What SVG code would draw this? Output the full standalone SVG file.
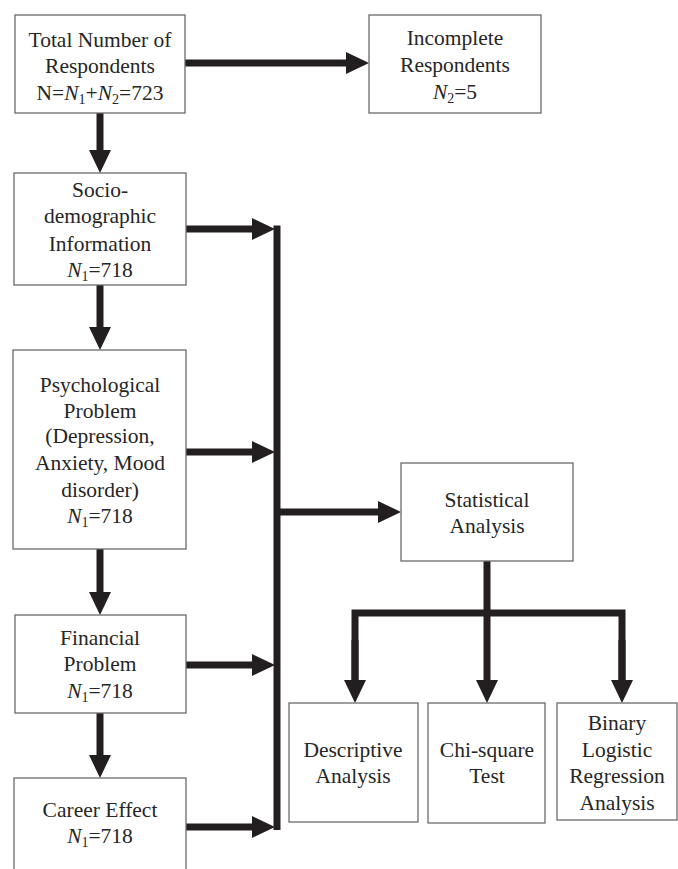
<svg xmlns="http://www.w3.org/2000/svg" width="678" height="869" viewBox="0 0 678 869">
<defs>
<style>
.box{fill:#fff;stroke:#6a6a6a;stroke-width:1.3}
.t{font-family:"Times New Roman",Tinos,"Liberation Serif","Noto Serif","DejaVu Serif",serif;font-size:21.5px;fill:#262626;text-anchor:middle}
.i{font-style:italic}
.c{stroke:#231f20;stroke-width:7;fill:none}
.a{stroke:#231f20;stroke-width:7;fill:none;marker-end:url(#ah)}
</style>
<marker id="ah" markerUnits="userSpaceOnUse" markerWidth="24" markerHeight="24" refX="1" refY="11" orient="auto">
<path d="M0,0 L23,11 L0,22 Z" fill="#231f20"/>
</marker>
</defs>
<rect width="678" height="869" fill="#fff"/>
<g id="connectors">
<line class="a" x1="185" y1="63" x2="347" y2="63"/>
<line class="a" x1="100" y1="113" x2="100" y2="151"/>
<line class="a" x1="186" y1="229" x2="253" y2="229"/>
<line class="c" x1="277" y1="225.5" x2="277" y2="830"/>
<line class="a" x1="186" y1="452" x2="253" y2="452"/>
<line class="a" x1="186" y1="665" x2="253" y2="665"/>
<line class="a" x1="186" y1="827" x2="253" y2="827"/>
<line class="a" x1="277" y1="512" x2="379" y2="512"/>
<line class="a" x1="100" y1="285" x2="100" y2="328"/>
<line class="a" x1="100" y1="549" x2="100" y2="593"/>
<line class="a" x1="100" y1="713" x2="100" y2="756"/>
<line class="c" x1="487" y1="561" x2="487" y2="613"/>
<path class="c" d="M355,681 V613 H622 V681" stroke-linejoin="miter"/>
<line class="a" x1="355" y1="640" x2="355" y2="681"/>
<line class="a" x1="487" y1="613" x2="487" y2="681"/>
<line class="a" x1="622" y1="640" x2="622" y2="681"/>
</g>
<g id="total">
<rect class="box" x="15" y="15" width="170" height="98"/>
<text class="t" x="100" y="47">Total Number of</text>
<text class="t" x="100" y="73">Respondents</text>
<text class="t" x="100" y="100">N=<tspan class="i">N</tspan><tspan font-size="14" dy="4">1</tspan><tspan dy="-4">+</tspan><tspan class="i">N</tspan><tspan font-size="14" dy="4">2</tspan><tspan dy="-4">=723</tspan></text>
</g>
<g id="incomplete">
<rect class="box" x="369" y="15" width="172" height="98"/>
<text class="t" x="455" y="45">Incomplete</text>
<text class="t" x="455" y="72">Respondents</text>
<text class="t" x="455" y="99"><tspan class="i">N</tspan><tspan font-size="14" dy="4">2</tspan><tspan dy="-4">=5</tspan></text>
</g>
<g id="socio">
<rect class="box" x="14" y="173" width="172" height="112"/>
<text class="t" x="100" y="197">Socio-</text>
<text class="t" x="100" y="223">demographic</text>
<text class="t" x="100" y="251">Information</text>
<text class="t" x="100" y="277"><tspan class="i">N</tspan><tspan font-size="14" dy="4">1</tspan><tspan dy="-4">=718</tspan></text>
</g>
<g id="psych">
<rect class="box" x="13" y="350" width="173" height="199"/>
<text class="t" x="100" y="392">Psychological</text>
<text class="t" x="100" y="418">Problem</text>
<text class="t" x="100" y="443">(Depression,</text>
<text class="t" x="100" y="470">Anxiety, Mood</text>
<text class="t" x="100" y="497">disorder)</text>
<text class="t" x="100" y="523"><tspan class="i">N</tspan><tspan font-size="14" dy="4">1</tspan><tspan dy="-4">=718</tspan></text>
</g>
<g id="financial">
<rect class="box" x="15" y="615" width="171" height="98"/>
<text class="t" x="100" y="645">Financial</text>
<text class="t" x="100" y="671">Problem</text>
<text class="t" x="100" y="698"><tspan class="i">N</tspan><tspan font-size="14" dy="4">1</tspan><tspan dy="-4">=718</tspan></text>
</g>
<g id="career">
<rect class="box" x="14" y="778" width="172" height="110"/>
<text class="t" x="100" y="817">Career Effect</text>
<text class="t" x="100" y="843"><tspan class="i">N</tspan><tspan font-size="14" dy="4">1</tspan><tspan dy="-4">=718</tspan></text>
</g>
<g id="statistical">
<rect class="box" x="401" y="463" width="172" height="98"/>
<text class="t" x="487" y="507">Statistical</text>
<text class="t" x="487" y="533">Analysis</text>
</g>
<g id="descriptive">
<rect class="box" x="289" y="703" width="129" height="119"/>
<text class="t" x="353" y="757">Descriptive</text>
<text class="t" x="353" y="783">Analysis</text>
</g>
<g id="chisquare">
<rect class="box" x="428" y="703" width="117" height="120"/>
<text class="t" x="487" y="757">Chi-square</text>
<text class="t" x="487" y="783">Test</text>
</g>
<g id="binary">
<rect class="box" x="557" y="703" width="120" height="117"/>
<text class="t" x="617" y="730">Binary</text>
<text class="t" x="617" y="757">Logistic</text>
<text class="t" x="617" y="783">Regression</text>
<text class="t" x="617" y="810">Analysis</text>
</g>
</svg>
